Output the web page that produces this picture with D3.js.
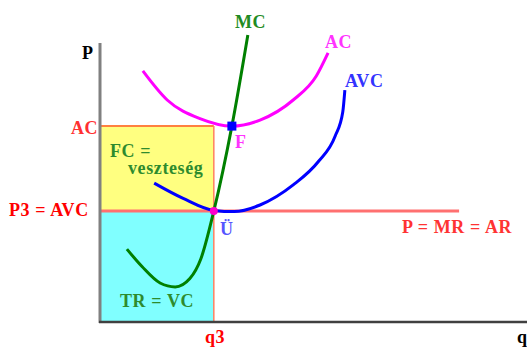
<!DOCTYPE html>
<html>
<head>
<meta charset="utf-8">
<script src="https://cdn.jsdelivr.net/npm/d3@7/dist/d3.min.js"></script>
<style>
  html, body { margin: 0; padding: 0; background: #fff; }
  svg { display: block; }
</style>
</head>
<body>
<svg id="chart" width="527" height="351"></svg>
<script>
// Short-run cost curves of a firm at the shutdown price (quantity, price units)
const mcCurve  = [[0.64, 2.43], [1.0, 1.85], [1.43, 1.3], [1.79, 1.17], [2.14, 1.45], [2.4, 2.1], [2.71, 3.7], [3.14, 6.53], [3.52, 9.57]];
const acCurve  = [[1.02, 8.37], [1.6, 7.4], [2.38, 6.78], [3.14, 6.53], [3.81, 6.73], [4.6, 7.4], [5.15, 8.2], [5.43, 8.97]];
const avcCurve = [[1.29, 4.63], [1.98, 4.12], [2.71, 3.72], [3.2, 3.68], [3.81, 3.9], [4.6, 4.57], [5.2, 5.35], [5.6, 6.2], [5.78, 7.0], [5.83, 7.73]];

// Key levels
const q3 = 2.71;        // output at the shutdown point
const qF = 3.14;        // output where MC meets AC
const priceP3 = 3.7;    // P3 = min AVC
const priceAC = 6.53;   // AC level (top of the loss rectangle)
const priceLineEnd = 8.55;

const xMax = 10, yMax = 10;

const svg = d3.select("#chart");
const x = d3.scaleLinear().domain([0, xMax]).range([100, 520]);
const y = d3.scaleLinear().domain([0, yMax]).range([322, 22]);

// Revenue area TR = VC (cyan) and loss area FC (yellow)
svg.append("rect")
  .attr("x", x(0)).attr("y", y(priceP3))
  .attr("width", x(q3) - x(0)).attr("height", y(0) - y(priceP3))
  .attr("fill", "#80ffff");
svg.append("rect")
  .attr("x", x(0)).attr("y", y(priceAC))
  .attr("width", x(q3) - x(0)).attr("height", y(priceP3) - y(priceAC))
  .attr("fill", "#ffff80");

// AC level line and q3 drop line
svg.append("line")
  .attr("x1", x(0)).attr("x2", x(q3))
  .attr("y1", y(priceAC)).attr("y2", y(priceAC))
  .attr("stroke", "#ff8040").attr("stroke-width", 2);
svg.append("line")
  .attr("x1", x(q3)).attr("x2", x(q3))
  .attr("y1", y(priceAC)).attr("y2", y(0))
  .attr("stroke", "#ff8060").attr("stroke-width", 1.5);

// Price line P = MR = AR
svg.append("line")
  .attr("x1", x(0)).attr("x2", x(priceLineEnd))
  .attr("y1", y(priceP3)).attr("y2", y(priceP3))
  .attr("stroke", "#ff7070").attr("stroke-width", 3);

// Axes
svg.append("line")
  .attr("x1", x(0)).attr("x2", x(0))
  .attr("y1", 43).attr("y2", y(0) + 1)
  .attr("stroke", "#808080").attr("stroke-width", 3);
svg.append("line")
  .attr("x1", x(0) - 1).attr("x2", 527)
  .attr("y1", y(0)).attr("y2", y(0))
  .attr("stroke", "#404040").attr("stroke-width", 2.5);

// Cost curves
const line = d3.line().x(d => x(d[0])).y(d => y(d[1])).curve(d3.curveMonotoneX);
svg.append("path").datum(acCurve).attr("d", line)
  .attr("fill", "none").attr("stroke", "#ff00ff").attr("stroke-width", 3);
svg.append("path").datum(avcCurve).attr("d", line)
  .attr("fill", "none").attr("stroke", "#0000ff").attr("stroke-width", 3);
svg.append("path").datum(mcCurve).attr("d", line)
  .attr("fill", "none").attr("stroke", "#008000").attr("stroke-width", 3);

// Marked points F and Ü
svg.append("rect")
  .attr("x", x(qF) - 4.5).attr("y", y(priceAC) - 4.5)
  .attr("width", 9).attr("height", 9)
  .attr("fill", "#0000ff");
svg.append("circle")
  .attr("cx", x(q3)).attr("cy", y(priceP3)).attr("r", 4)
  .attr("fill", "#ff00cc");

// Labels
const labels = [
  { t: "P", x: 82, y: 59, c: "#000000" },
  { t: "q", x: 517, y: 343, c: "#000000" },
  { t: "AC", x: 71, y: 134, c: "#ff3030" },
  { t: "P3 = AVC", x: 9, y: 216, c: "#ff0000" },
  { t: "q3", x: 205, y: 343, c: "#ff0000" },
  { t: "P = MR = AR", x: 402, y: 233, c: "#ff3333" },
  { t: "MC", x: 235, y: 28, c: "#228b22" },
  { t: "AC", x: 325, y: 48, c: "#ff33ff" },
  { t: "AVC", x: 345, y: 87, c: "#3333ff" },
  { t: "F", x: 235, y: 148, c: "#ff33ff" },
  { t: "Ü", x: 220, y: 235, c: "#5555ff" },
  { t: "FC =", x: 110, y: 157, c: "#2e8b2e" },
  { t: "veszteség", x: 128, y: 174, c: "#2e8b2e" },
  { t: "TR = VC", x: 120, y: 307, c: "#2e8b2e" }
];
svg.selectAll("text.lbl").data(labels).enter().append("text")
  .attr("class", "lbl")
  .attr("x", d => d.x).attr("y", d => d.y)
  .attr("fill", d => d.c)
  .attr("font-family", "'Liberation Serif', 'DejaVu Serif', serif")
  .attr("font-weight", "bold")
  .attr("font-size", 18)
  .attr("letter-spacing", 0.6)
  .text(d => d.t);
</script>
</body>
</html>
